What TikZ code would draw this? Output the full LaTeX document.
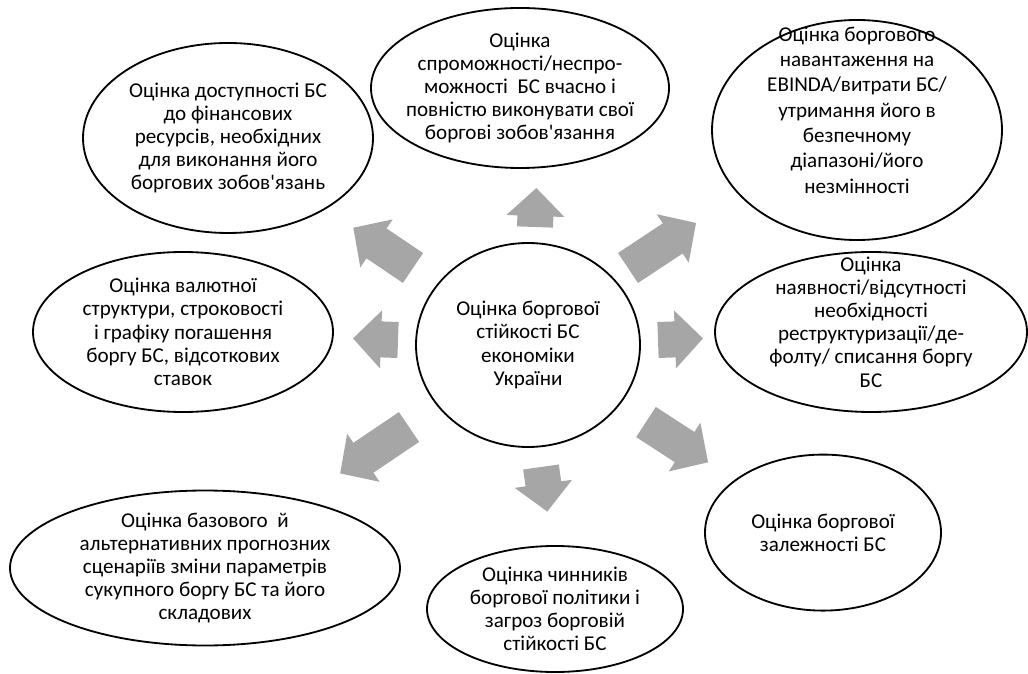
\documentclass[tikz,border=0pt]{standalone}
\usepackage{fontspec}
\setmainfont{Carlito}
\usetikzlibrary{shapes.geometric}
\definecolor{arrowgray}{HTML}{A6A6A6}

\tikzset{
  bubble/.style={ellipse, draw, line width=1.3pt, inner sep=0pt},
  bubtext/.style={align=center, inner sep=0pt, font=\fontsize{15}{16.5}\selectfont},
  pics/fatarrow/.style={code={
    \fill[arrowgray] (0,-0.45) -- (#1-0.7,-0.45) -- (#1-0.7,-0.725) -- (#1,0)
      -- (#1-0.7,0.725) -- (#1-0.7,0.45) -- (0,0.45) -- cycle;
  }}
}

\begin{document}
\begin{tikzpicture}
\useasboundingbox (0,0) rectangle (25.7,16.825);
%centre
\node[bubble, bubtext, minimum width=5.6cm, minimum height=5.1cm] (hub) at (13.2,8.2)
  {Оцінка боргової\\стійкості БС\\економіки\\України};
%outer ellipses
\node[bubble, minimum width=7.25cm, minimum height=4.75cm,
  label={[bubtext]center:{Оцінка доступності БС\\до фінансових\\ресурсів, необхідних\\для виконання його\\боргових зобов\textquotesingle язань}}]
  (access) at (5.7,13.375) {};
\node[bubble, minimum width=7.45cm, minimum height=4.0cm,
  label={[bubtext]center:{Оцінка\\спроможності/неспро-\\можності~ БС вчасно і\\повністю виконувати свої\\боргові зобов\textquotesingle язання}}]
  (ability) at (13.0,14.625) {};
\node[bubble, minimum width=7.25cm, minimum height=5.5cm,
  label={[bubtext, font=\fontsize{15}{18}\selectfont, yshift=0.5cm]center:{Оцінка боргового\\навантаження на\\EBINDA/витрати БС/\\утримання його в\\безпечному\\діапазоні/його\\незмінності}}]
  (burden) at (21.425,13.575) {};
\node[bubble, minimum width=7.8cm, minimum height=4.0cm,
  label={[bubtext, yshift=0.25cm]center:{Оцінка\\наявності/відсутності\\необхідності\\реструктуризації/де-\\фолту/ списання боргу\\БС}}]
  (restruct) at (21.775,8.525) {};
\node[bubble, minimum width=7.5cm, minimum height=4.0cm,
  label={[bubtext]center:{Оцінка валютної\\структури, строковості\\і графіку погашення\\боргу БС, відсоткових\\ставок}}]
  (currency) at (4.575,8.525) {};
\node[bubble, minimum width=9.75cm, minimum height=3.875cm,
  label={[bubtext]center:{Оцінка базового~ й\\альтернативних прогнозних\\сценаріїв зміни параметрів\\сукупного боргу БС та його\\складових}}]
  (scenario) at (5.125,2.625) {};
\node[bubble, minimum width=6.4cm, minimum height=3.15cm,
  label={[bubtext]center:{Оцінка чинників\\боргової політики і\\загроз борговій\\стійкості БС}}]
  (factors) at (13.875,1.6) {};
\node[bubble, minimum width=5.9cm, minimum height=3.9cm,
  label={[bubtext]center:{Оцінка боргової\\залежності БС}}]
  (depend) at (20.575,3.51) {};
%arrows
\pic[rotate=88] (toability) at (13.375,11.15) {fatarrow=0.975};
\pic[rotate=-82] (tofactors) at (13.525,5.15) {fatarrow=1.125};
\pic[rotate=178] (tocurrency) at (9.95,8.325) {fatarrow=1.125};
\pic[rotate=2] (torestruct) at (16.45,8.325) {fatarrow=1.125};
\pic[rotate=146] (toaccess) at (10.325,10.125) {fatarrow=1.8};
\pic[rotate=33.5] (toburden) at (15.7,10.125) {fatarrow=2.04};
\pic[rotate=-146] (toscenario) at (10.225,6.15) {fatarrow=2.075};
\pic[rotate=-33] (todepend) at (16.15,6.275) {fatarrow=1.85};
\end{tikzpicture}
\end{document}
